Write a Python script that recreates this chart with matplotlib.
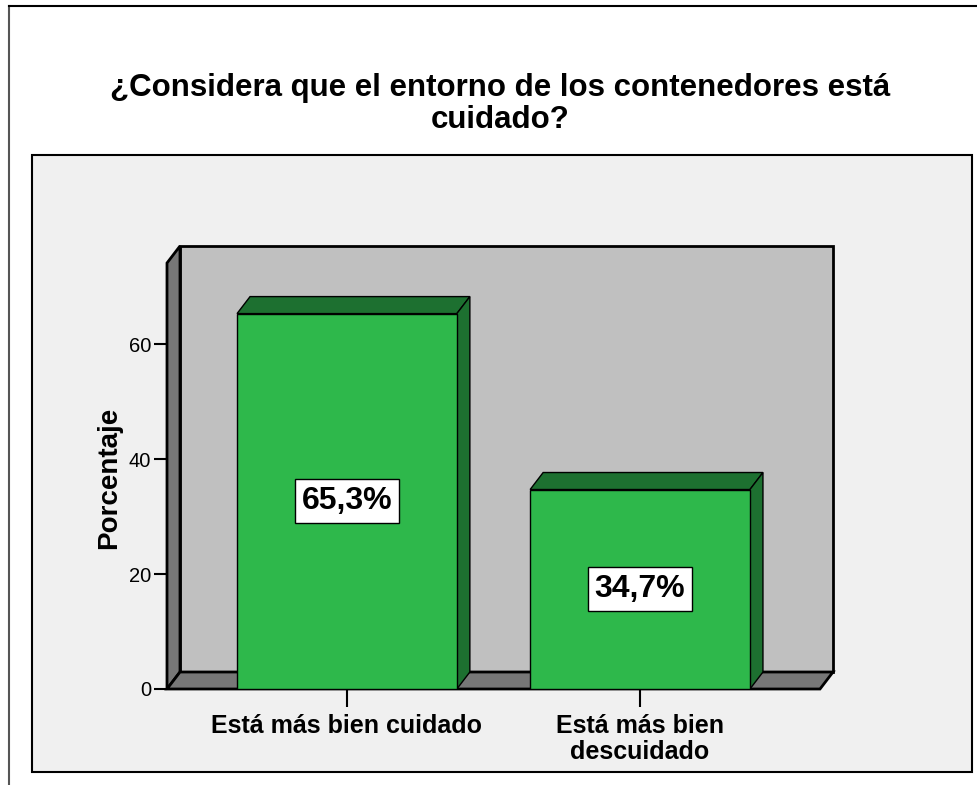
import matplotlib
matplotlib.use('Agg')
import matplotlib.pyplot as plt
from matplotlib.patches import Rectangle, Polygon
from matplotlib.lines import Line2D

plt.rcParams['font.family'] = ['Liberation Sans', 'DejaVu Sans']

title = '¿Considera que el entorno de los contenedores está\ncuidado?'
categories = ['Está más bien cuidado', 'Está más bien\ndescuidado']
percent = [65.3, 34.7]
yticks = [0, 20, 40, 60]
ylabel = 'Porcentaje'

W, H = 977, 785
green = '#2EB84B'
dark_green = '#1D7030'
wall = '#C0C0C0'
side = '#777777'

fig = plt.figure(figsize=(W / 100, H / 100), dpi=100)
fig.patch.set_facecolor('white')

def fx(px):
    return px / W

def fy(py):
    return 1 - py / H

# outer frame (extends past the picture on right / bottom)
fig.add_artist(Line2D([fx(9), fx(9)], [fy(6), 0], color='#555555', lw=1.5, zorder=-2))
fig.add_artist(Line2D([fx(9), 1], [fy(6), fy(6)], color='black', lw=1.5, zorder=-2))

# chart panel
fig.add_artist(Rectangle((fx(32), fy(772)), fx(972) - fx(32), fy(155) - fy(772),
                         facecolor='#F0F0F0', edgecolor='black', lw=1.5, zorder=-1))

fig.text(fx(500), fy(104), title, ha='center', va='center', fontsize=22.5,
         fontweight='bold', linespacing=1.07)

# front plane of the 3D box
ax = fig.add_axes([fx(167), fy(689), fx(820) - fx(167), fy(263) - fy(689)])
ax.patch.set_visible(False)
for s in ax.spines.values():
    s.set_visible(False)

xl, xr = -0.614, 1.614
ytop = 74.1
ax.set_xlim(xl, xr)
ax.set_ylim(0, ytop)

# depth offsets in data units
dx = 13 / 293
dy = 17 / 5.75

def poly(pts, fc, z, lw=1.5):
    ax.add_patch(Polygon(pts, closed=True, facecolor=fc, edgecolor='black',
                         lw=lw, zorder=z, clip_on=False, joinstyle='miter'))

# back wall, left wall, floor
poly([(xl + dx, dy), (xr + dx, dy), (xr + dx, ytop + dy), (xl + dx, ytop + dy)], wall, 1, lw=2)
poly([(xl, 0), (xl + dx, dy), (xl + dx, ytop + dy), (xl, ytop)], side, 2, lw=2)
poly([(xl, 0), (xr, 0), (xr + dx, dy), (xl + dx, dy)], side, 2, lw=2)

xs = list(range(len(categories)))
bw = 0.75
ax.bar(xs, percent, width=bw, color=green, edgecolor='black', lw=1, zorder=4)
for x, v in zip(xs, percent):
    l, r = x - bw / 2, x + bw / 2
    poly([(l, v), (r, v), (r + dx, v + dy), (l + dx, v + dy)], dark_green, 3, lw=1)
    poly([(r, 0), (r + dx, dy), (r + dx, v + dy), (r, v)], dark_green, 3, lw=1)
    ax.text(x, v / 2, f'{v:.1f}'.replace('.', ',') + '%', ha='center', va='center',
            fontsize=23, fontweight='bold', zorder=6,
            bbox=dict(boxstyle='square,pad=0.22', facecolor='white', edgecolor='black', lw=1))

ax.set_yticks(yticks)
ax.tick_params(axis='y', direction='out', length=9.5, width=1.5, labelsize=14.5, pad=2)
ax.set_xticks(xs)
ax.set_xticklabels(categories, fontsize=18, fontweight='bold', linespacing=1.12)
ax.tick_params(axis='x', direction='out', length=13, width=1.5, pad=5)

ax.set_ylabel(ylabel, fontsize=20, fontweight='bold')
ax.yaxis.set_label_coords((122 - 167) / 653, 0.495)

fig.savefig('out.png', dpi=100)
